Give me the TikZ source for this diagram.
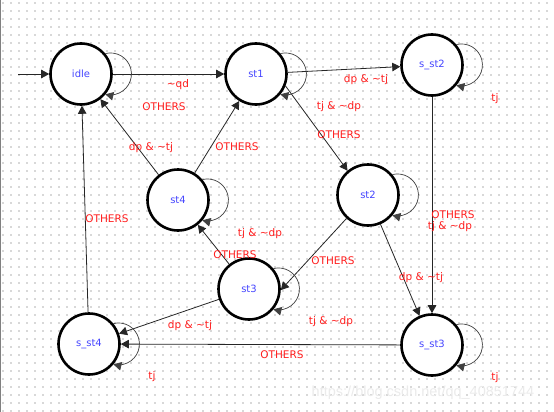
\documentclass[tikz,border=0pt]{standalone}
\usepackage{fontspec}
\setmainfont{DejaVu Sans}
\newfontfamily\wmfont{Liberation Sans}
\usetikzlibrary{arrows.meta}
\definecolor{stblue}{RGB}{70,70,255}
\definecolor{lblred}{RGB}{255,30,30}
\definecolor{dotgray}{RGB}{165,165,165}
\tikzset{
  state/.style={circle, draw=black, line width=2.6pt, minimum size=61pt, inner sep=0pt,
    fill=white, text=stblue, font=\fontsize{10}{12}\selectfont},
  trans/.style={draw=black!85, line width=0.8pt, -{Triangle[length=8pt,width=8.5pt]}},
  selfloop/.style={draw=black!75, line width=0.7pt, -{Triangle[length=8pt,width=8.5pt]}},
  lbl/.style={text=lblred, font=\fontsize{10.5}{12}\selectfont, inner sep=0pt},
}
\begin{document}
\begin{tikzpicture}[x=1pt,y=1pt]
\useasboundingbox (0,0) rectangle (554,-412);
\fill[white] (0,0) rectangle (554,-412);
% dotted grid
\fill[dotgray] \foreach \i in {0,...,68} {\foreach \j in {0,...,51} {(2.4+8*\i,-2.4-8*\j) rectangle ++(1.3,-1.3)}};
\draw[gray, line width=1.2pt] (0.6,0) -- (0.6,-412);

% states
\node[state] (idle) at (81,-74) {idle};
\node[state] (st1) at (256,-74) {st1};
\node[state] (sst2) at (432,-65) {s\_st2};
\node[state] (st4) at (178,-200) {st4};
\node[state] (st2) at (368,-195) {st2};
\node[state] (st3) at (249,-289) {st3};
\node[state] (sst4) at (89,-344) {s\_st4};
\node[state] (sst3) at (432,-345) {s\_st3};

% initial arrow
\coordinate (init) at (18,-74);
\draw[trans] (init) -- (idle);

% transitions
\draw[trans] (idle) -- (st1);
\draw[trans] (st1) -- (sst2);
\draw[trans] (st1.-22) -- (st2.130);
\draw[trans] (sst2) -- (sst3);
\draw[trans] (st2) -- (sst3);
\draw[trans] (st2) -- (st3.-2);
\draw[trans] (st3) -- (st4);
\draw[trans] (st4) -- (idle);
\draw[trans] (st4) -- (st1);
\draw[trans] (sst4) -- (idle);
\draw[trans] (st3) -- (sst4);
\draw[trans] (sst3) -- (sst4);

% self loops
\foreach \n in {idle,st1,sst2,st4,st2,st3,sst4,sst3}
  \draw[selfloop] (\n.40) arc[start angle=104, end angle=-104, radius=21];

% labels
\node[lbl] (l1) at (178,-84.5) {\textasciitilde qd};
\node[lbl] (l2) at (164,-107) {OTHERS};
\node[lbl] (l3) at (151,-148) {dp \& \textasciitilde tj};
\node[lbl] (l4) at (237,-147) {OTHERS};
\node[lbl] (l5) at (366,-80) {dp \& \textasciitilde tj};
\node[lbl] (l6) at (339,-107) {tj \& \textasciitilde dp};
\node[lbl] (l7) at (339,-135) {OTHERS};
\node[lbl] (l8) at (495,-99) {tj};
\node[lbl] (l9) at (453,-215) {OTHERS};
\node[lbl] (l10) at (450,-227) {tj \& \textasciitilde dp};
\node[lbl] (l11) at (333,-261) {OTHERS};
\node[lbl] (l12) at (421,-278) {dp \& \textasciitilde tj};
\node[lbl] (l13) at (331,-322) {tj \& \textasciitilde dp};
\node[lbl] (l14) at (282,-355) {OTHERS};
\node[lbl] (l15) at (495,-378) {tj};
\node[lbl] (l16) at (107,-219) {OTHERS};
\node[lbl] (l17) at (260,-234) {tj \& \textasciitilde dp};
\node[lbl] (l18) at (235,-255) {OTHERS};
\node[lbl] (l19) at (190,-326) {dp \& \textasciitilde tj};
\node[lbl] (l20) at (152,-377) {tj};

% watermark
\node[text=black!8, font=\wmfont\fontsize{14.5}{16}\selectfont, inner sep=0pt] (wm) at (423,-393) {https://blog.csdn.net/qq\_40851744};
\end{tikzpicture}
\end{document}
